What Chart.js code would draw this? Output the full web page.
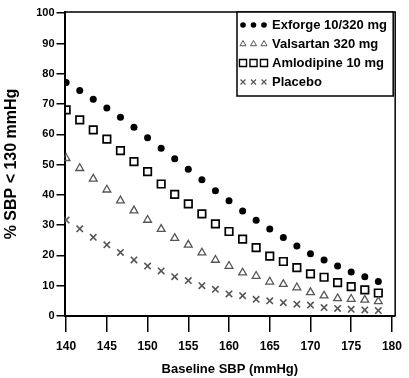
<!DOCTYPE html>
<html>
<head>
<meta charset="utf-8">
<script src="https://cdn.jsdelivr.net/npm/chart.js@4/dist/chart.umd.min.js"></script>
<style>
html,body{margin:0;padding:0;background:#fff;}
canvas{display:block;}
</style>
</head>
<body>
<canvas id="c" width="409" height="378"></canvas>
<script>
const baselineSBP = [140, 141.67, 143.33, 145, 146.67, 148.33, 150, 151.67, 153.33, 155, 156.67, 158.33, 160, 161.67, 163.33, 165, 166.67, 168.33, 170, 171.67, 173.33, 175, 176.67, 178.33];
const exforge = [77.1, 74.5, 71.6, 68.7, 65.6, 62.3, 58.9, 55.4, 51.9, 48.5, 45.0, 41.4, 38.1, 34.7, 31.6, 28.7, 25.9, 23.1, 20.6, 18.5, 16.5, 14.5, 13.0, 11.4];
const valsartan = [52.1, 48.8, 45.3, 41.7, 38.1, 34.8, 31.7, 28.7, 25.7, 23.5, 20.9, 18.5, 16.5, 14.3, 13.2, 11.3, 10.5, 9.4, 7.8, 6.7, 5.8, 5.6, 5.3, 4.8];
const amlodipine = [68.1, 64.8, 61.5, 58.4, 54.6, 51.0, 47.7, 43.6, 40.2, 37.0, 33.7, 30.4, 27.9, 25.4, 22.6, 19.8, 18.0, 16.0, 13.9, 12.8, 11.0, 9.7, 8.6, 7.6];
const placebo = [31.7, 28.8, 26.0, 23.5, 21.0, 18.5, 16.5, 14.9, 13.0, 11.7, 10.0, 8.8, 7.3, 6.7, 5.5, 5.0, 4.4, 3.9, 3.6, 2.8, 2.5, 2.2, 2.0, 1.8];
const seriesLabels = ['Exforge 10/320 mg', 'Valsartan 320 mg', 'Amlodipine 10 mg', 'Placebo'];
const xTitle = 'Baseline SBP (mmHg)';
const yTitle = '% SBP < 130 mmHg';

const pts = arr => arr.map((v, i) => ({x: baselineSBP[i], y: v}));

const FONT = "'Liberation Sans', Arial, sans-serif";

const boxPlugin = {
  id: 'boxAndLegend',
  afterDraw(chart) {
    const ctx = chart.ctx;
    const a = chart.chartArea;
    ctx.save();
    ctx.strokeStyle = '#000';
    ctx.lineWidth = 1.5;
    ctx.beginPath();
    ctx.moveTo(a.left, a.top);
    ctx.lineTo(a.right, a.top);
    ctx.lineTo(a.right, a.bottom);
    ctx.stroke();
    // legend box
    const L = 237, T = a.top, R = a.right - 2, B = 96;
    ctx.fillStyle = '#fff';
    ctx.fillRect(L, T, R - L, B - T);
    ctx.lineWidth = 1.5;
    ctx.strokeRect(L, T, R - L, B - T);
    const rowY = [25, 44, 63, 82];
    chart.data.datasets.forEach((ds, i) => {
      const y = rowY[i];
      for (let k = 0; k < 3; k++) {
        const x = 243 + k * 10.5;
        ctx.save();
        ctx.strokeStyle = ds.borderColor;
        ctx.fillStyle = ds.backgroundColor;
        ctx.lineWidth = ds.legendLineWidth;
        Chart.helpers.drawPoint(ctx, {pointStyle: ds.pointStyle, radius: ds.legendRadius, borderWidth: ds.legendLineWidth}, x, y);
        ctx.restore();
      }
      ctx.fillStyle = '#000';
      ctx.font = "bold 13px " + FONT;
      ctx.textBaseline = 'middle';
      ctx.textAlign = 'left';
      ctx.fillText(ds.label, 272, y + 0.5);
    });
    ctx.restore();
  }
};

new Chart(document.getElementById('c'), {
  type: 'scatter',
  data: {
    datasets: [
      {label: seriesLabels[0], data: pts(exforge), pointStyle: 'circle', pointRadius: 3.5, pointBorderWidth: 0,
       backgroundColor: '#000', borderColor: '#000', legendRadius: 2.8, legendLineWidth: 0},
      {label: seriesLabels[1], data: pts(valsartan), pointStyle: 'triangle', pointRadius: 4.5, pointBorderWidth: 1.3,
       backgroundColor: 'rgba(0,0,0,0)', borderColor: '#555', legendRadius: 3.5, legendLineWidth: 1},
      {label: seriesLabels[2], data: pts(amlodipine), pointStyle: 'rect', pointRadius: 5.3, pointBorderWidth: 1.7,
       backgroundColor: 'rgba(0,0,0,0)', borderColor: '#000', legendRadius: 5, legendLineWidth: 1.4},
      {label: seriesLabels[3], data: pts(placebo), pointStyle: 'crossRot', pointRadius: 4.5, pointBorderWidth: 1.6,
       backgroundColor: 'rgba(0,0,0,0)', borderColor: '#555', legendRadius: 3.5, legendLineWidth: 1.2}
    ]
  },
  options: {
    responsive: false,
    animation: false,
    devicePixelRatio: 1,
    layout: {padding: {left: 0, right: 6, top: 12, bottom: 0}},
    plugins: {legend: {display: false}, tooltip: {enabled: false}},
    scales: {
      x: {
        type: 'linear', min: 139.8, max: 180.4,
        afterFit: s => { s.height = 62; },
        border: {display: true, color: '#000', width: 2},
        grid: {display: true, drawOnChartArea: false, drawTicks: true, tickLength: 16, color: '#000', lineWidth: 1.5},
        ticks: {stepSize: 5, includeBounds: false, color: '#000', padding: 7, maxRotation: 0,
                font: {family: FONT, size: 12, weight: 'bold'}},
        title: {display: true, text: xTitle, color: '#000', padding: {top: 0, bottom: 1},
                font: {family: FONT, size: 13, weight: 'bold'}}
      },
      y: {
        type: 'linear', min: 0, max: 100.4,
        afterFit: s => { s.width = 64.5; },
        border: {display: true, color: '#000', width: 2},
        grid: {display: true, drawOnChartArea: false, drawTicks: true, tickLength: 8, color: '#000', lineWidth: 1.5},
        ticks: {stepSize: 10, includeBounds: false, color: '#000', padding: 2,
                font: {family: FONT, size: 11, weight: 'bold'}},
        title: {display: true, text: yTitle, color: '#000', padding: {top: 2, bottom: 0},
                font: {family: FONT, size: 16, weight: 'bold'}}
      }
    }
  },
  plugins: [boxPlugin]
});
</script>
</body>
</html>
